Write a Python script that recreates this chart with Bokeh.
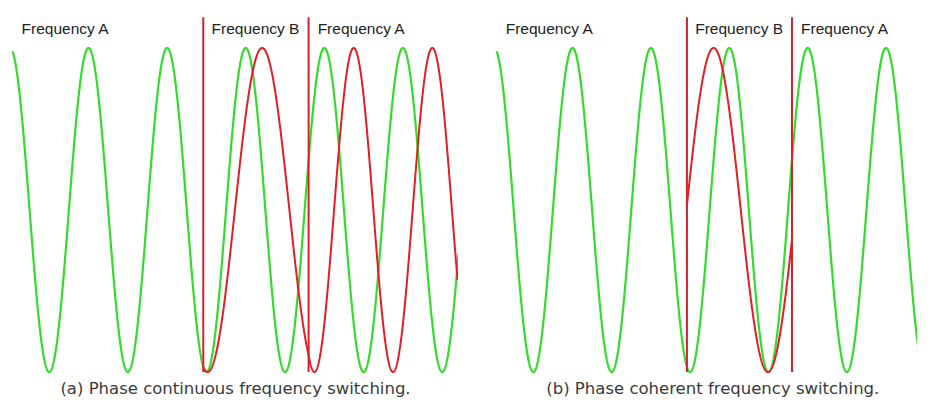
import numpy as np
from bokeh.plotting import figure
from bokeh.layouts import row
from bokeh.models import Range1d
from bokeh.embed import file_html
from bokeh.resources import INLINE
from bokeh.core.properties import value

# ---------------- data (time in periods of frequency A, normalised amplitude) ----------------
freq_a = 1.0                 # frequency A (cycles per unit time)
freq_b = 0.721               # frequency B
wave_start = -0.967          # start of the green reference wave
wave_end = [4.707, 4.75]     # end of green wave, per panel
red_end_continuous = 4.695   # end of red wave in panel (a)
switch_on = 1.46             # switch A -> B
switch_off = 2.80            # switch B -> A
coherent_b_peak = 1.80       # a peak time of the free-running B oscillator (panel b)
marker_top = 1.19            # top of the red switch markers
marker_bottom = -1.0
labels = ["Frequency A", "Frequency B", "Frequency A"]
captions = ["(a) Phase continuous frequency switching.",
            "(b) Phase coherent frequency switching."]

GREEN = "#33dc2a"
RED = "#e41d24"
RED_LINE = "#d8202a"
TXT = "#222222"

# panel x ranges (same time scale, panel b frame shifted)
x_ranges = [(-1.120, 4.707), (-1.454, 4.401)]
y_range = (-1.182, 1.293)
widths = [458, 459]
caption_x = [1.87, 1.79]
H = 401


def make_panel(i):
    p = figure(width=widths[i], height=H, output_backend="svg", toolbar_location=None,
               x_range=Range1d(*x_ranges[i]), y_range=Range1d(*y_range),
               min_border=0, outline_line_color=None)
    p.axis.visible = False
    p.grid.visible = False
    p.background_fill_color = "white"

    # green reference wave at frequency A
    t = np.linspace(wave_start, wave_end[i], 2000)
    p.line(t, np.cos(2 * np.pi * freq_a * t), line_color=GREEN, line_width=2.2)

    # red switched wave
    if i == 0:
        t1 = np.linspace(switch_on, switch_off, 600)
        ph1 = freq_a * switch_on + freq_b * (t1 - switch_on)
        ph_off = freq_a * switch_on + freq_b * (switch_off - switch_on)
        t2 = np.linspace(switch_off, red_end_continuous, 800)
        ph2 = ph_off + freq_a * (t2 - switch_off)
        tr = np.concatenate([t1, t2])
        ph = np.concatenate([ph1, ph2])
    else:
        tr = np.linspace(switch_on, switch_off, 600)
        ph = freq_b * (tr - coherent_b_peak)
    p.line(tr, np.cos(2 * np.pi * ph), line_color=RED, line_width=2.0)

    # switch markers
    p.segment(x0=[switch_on, switch_off], y0=[marker_bottom] * 2,
              x1=[switch_on, switch_off], y1=[marker_top] * 2,
              line_color=RED_LINE, line_width=2.0)

    # region labels
    lx = [wave_start + 0.115, switch_on + 0.105, switch_off + 0.115]
    p.text(x=lx, y=[1.12] * 3, text=labels, text_font=value("Liberation Sans"),
           text_font_size=value("15.5px"), text_color=TXT, text_baseline="alphabetic",
           text_align="left")

    # caption
    p.text(x=[caption_x[i]], y=[-1.10], text=[captions[i]], text_font=value("DejaVu Sans"),
           text_font_size=value("16.5px"), text_color="#3a3a3a", text_baseline="alphabetic",
           text_align="center")
    return p


layout = row(make_panel(0), make_panel(1))
open("out.html", "w").write(file_html(layout, INLINE))
